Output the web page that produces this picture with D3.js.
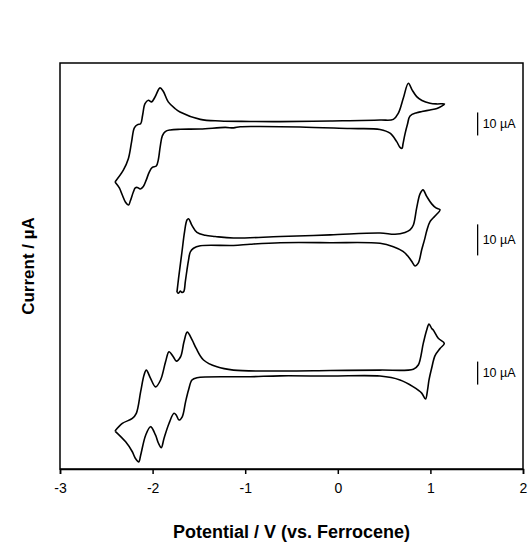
<!DOCTYPE html>
<html><head><meta charset="utf-8">
<script src="https://cdn.jsdelivr.net/npm/d3@7"></script>
<style>body{margin:0;background:#fff}svg{display:block}</style>
</head><body>
<svg id="chart" width="528" height="543"></svg>
<script>
// ---- data ----
const xTicks = [-3, -2, -1, 0, 1, 2];
const xLabel = "Potential / V (vs. Ferrocene)";
const yLabel = "Current / \u00b5A";
const traceOffsets = [150, 99.6, 41.7];   // µA, vertical stacking offset of each trace
const traceGain = [1, 1.35, 1];           // display gain of each trace
const scaleBarValue = [10, 10, 10];       // µA
const scaleBarLabel = "10 \u00b5A";
const scaleBarV = 1.51;

const topV = [-2.406,-2.316,-2.262,-2.227,-2.197,-2.162,-2.129,-2.108,-2.082,-2.046,-2.011,-1.974,-1.920,-1.885,-1.831,-1.758,-1.704,-1.485,-1.270,-0.946,-0.622,-0.083,0.456,0.600,0.654,0.708,0.762,0.802,0.852,0.909,0.996,1.071,1.152,
  1.071,0.996,0.909,0.852,0.780,0.753,0.726,0.704,0.694,0.672,0.636,0.564,0.456,0.133,-0.407,-0.838,-1.054,-1.126,-1.216,-1.485,-1.701,-1.809,-1.863,-1.895,-1.917,-1.939,-1.960,-2.003,-2.036,-2.068,-2.100,-2.133,-2.165,-2.187,-2.208,-2.241,-2.259,-2.294,-2.327,-2.359,-2.406];
const topI = [-25.2,-20.1,-15.1,-7.8,-1.7,-0.3,0.1,3.8,8.8,10.3,9.6,11.7,15.7,14.2,9.6,6.7,5.2,2.0,1.3,1.1,1.0,1.3,1.7,2.0,4.7,11.3,17.7,14.8,11.9,10.2,9.0,8.7,8.7,
  6.7,6.1,5.4,4.9,3.5,0,-4.3,-8.7,-10.6,-10.2,-7.7,-4.0,-2.4,-2.0,-1.3,-1.1,-1.2,-1.7,-1.5,-2.2,-2.3,-2.6,-3.3,-5.2,-9.6,-15.7,-18.3,-18.9,-20.9,-24.3,-27.2,-28.3,-27.6,-27.8,-29.6,-33.5,-35.2,-33.9,-30.9,-27.8,-25.2];

const midV = [-1.737,-1.720,-1.683,-1.655,-1.629,-1.612,-1.575,-1.521,-1.432,-1.324,-1.126,-0.622,-0.083,0.456,0.618,0.726,0.780,0.816,0.852,0.888,0.920,0.960,1.014,1.060,1.104,
  1.050,0.996,0.963,0.936,0.906,0.869,0.834,0.798,0.762,0.704,0.600,0.456,-0.083,-0.622,-0.946,-1.126,-1.485,-1.558,-1.593,-1.612,-1.629,-1.647,-1.663,-1.683,-1.701,-1.720,-1.737];
const midI = [-16.8,-12.5,-3.9,2.6,6.4,6.8,4.7,2.4,1.5,1.1,0.6,1.1,1.6,2.2,1.8,2.4,3.2,4.8,10.3,14.8,16.1,14.0,11.6,10.3,9.7,
  7.7,5.9,3.2,0,-3.2,-7.5,-8.4,-6.9,-5.4,-3.7,-2.2,-1.1,-0.9,-0.9,-1.4,-1.8,-1.9,-2.7,-3.9,-6.5,-9.7,-13.5,-16.6,-16.9,-16.5,-17.2,-16.8];

const botV = [-2.406,-2.327,-2.219,-2.176,-2.129,-2.093,-2.068,-2.022,-1.968,-1.914,-1.860,-1.823,-1.777,-1.744,-1.698,-1.661,-1.626,-1.572,-1.529,-1.450,-1.305,-1.126,-0.622,-0.083,0.456,0.816,0.869,0.923,0.960,0.985,1.014,1.031,1.085,1.150,
  1.104,1.050,1.014,0.985,0.969,0.947,0.906,0.816,0.672,0.456,-0.083,-0.622,-0.946,-1.521,-1.575,-1.612,-1.644,-1.680,-1.715,-1.744,-1.769,-1.823,-1.877,-1.906,-1.938,-1.968,-2.022,-2.075,-2.129,-2.149,-2.187,-2.219,-2.291,-2.406];
const botI = [-25.2,-21.9,-19.7,-17.5,-8.1,-0.9,1.3,-2.3,-6.0,-3.0,4.9,9.3,7.1,5.2,7.1,13.6,17.8,14.3,10.7,5.7,2.7,1.3,0.9,1.1,1.3,1.7,3.5,12.9,18.7,21.3,19.4,18.7,15.1,12.9,
  10.7,7.6,2.2,-3.0,-7.4,-11.3,-8.7,-6.0,-3.0,-1.3,-1.3,-1.2,-1.6,-2.0,-3.0,-7.4,-12.5,-19.0,-20.4,-18.3,-17.5,-21.9,-28.4,-32.4,-30.4,-27.0,-23.3,-27.0,-35.7,-38.6,-37.0,-34.2,-29.9,-25.2];

const traces = [[topV, topI], [midV, midI], [botV, botI]];

// ---- chart ----
const FONT = "Arial, 'Liberation Sans', sans-serif";
const svg = d3.select("#chart");
const plot = {left: 60, right: 523, top: 63, bottom: 469};
const x = d3.scaleLinear().domain([-3, 2]).range([plot.left, plot.right]);
const y = d3.scaleLinear().domain([0, 176.5]).range([plot.bottom, plot.top]);

const line = d3.line()
  .x(d => x(d[0]))
  .y(d => y(d[1]))
  .curve(d3.curveCatmullRom.alpha(0.5));

traces.forEach(([V, I], k) => {
  const pts = V.map((v, i) => [v, traceOffsets[k] + I[i] * traceGain[k]]);
  svg.append("path").attr("d", line(pts))
    .attr("fill", "none").attr("stroke", "#000").attr("stroke-width", 1.6)
    .attr("stroke-linejoin", "round");
});

// scale bars
traceOffsets.forEach((off, k) => {
  const half = scaleBarValue[k] / 2 * traceGain[k];
  svg.append("line")
    .attr("x1", x(scaleBarV)).attr("x2", x(scaleBarV))
    .attr("y1", y(off + half)).attr("y2", y(off - half))
    .attr("stroke", "#000").attr("stroke-width", 1.3);
  svg.append("text")
    .attr("x", x(scaleBarV) + 5).attr("y", y(off))
    .attr("dy", "0.35em")
    .attr("font-family", FONT).attr("font-size", 12.5)
    .text(scaleBarLabel);
});

// frame
svg.append("rect")
  .attr("x", plot.left).attr("y", plot.top)
  .attr("width", plot.right - plot.left).attr("height", plot.bottom - plot.top)
  .attr("fill", "none").attr("stroke", "#000").attr("stroke-width", 1.5);

// x axis
const xAxis = d3.axisBottom(x).tickValues(xTicks).tickSize(5).tickPadding(9)
  .tickFormat(d => String(d));
const gx = svg.append("g").attr("transform", `translate(0,${plot.bottom})`).call(xAxis);
gx.select(".domain").attr("stroke-width", 1.5);
gx.selectAll(".tick line").attr("stroke-width", 1.5);
gx.selectAll("text").attr("font-family", FONT).attr("font-size", 14).attr("fill", "#000");

// axis titles
svg.append("text")
  .attr("x", (plot.left + plot.right) / 2).attr("y", 538)
  .attr("text-anchor", "middle")
  .attr("font-family", FONT).attr("font-size", 18).attr("font-weight", "bold")
  .text(xLabel);
svg.append("text")
  .attr("transform", `translate(34,${(plot.top + plot.bottom) / 2}) rotate(-90)`)
  .attr("text-anchor", "middle")
  .attr("font-family", FONT).attr("font-size", 17).attr("font-weight", "bold")
  .text(yLabel);
</script>
</body></html>
